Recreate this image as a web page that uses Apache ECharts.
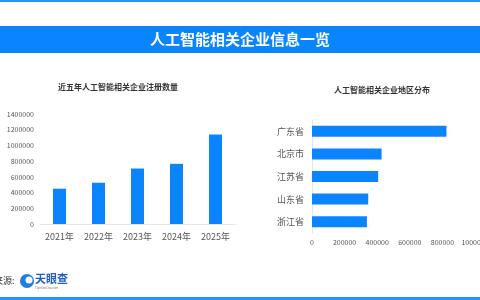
<!DOCTYPE html>
<html>
<head>
<meta charset="utf-8">
<script src="https://cdn.jsdelivr.net/npm/echarts@6/dist/echarts.min.js"></script>
<style>
  html, body { margin: 0; padding: 0; background: #fff; }
  #main { width: 480px; height: 300px; }
</style>
</head>
<body>
<div id="main"></div>
<script>
// 近五年注册数量
var years = ["2021年", "2022年", "2023年", "2024年", "2025年"];
var yearValues = [449000, 525000, 706000, 766000, 1138000];

// 地区分布
var regions = ["浙江省", "山东省", "江苏省", "北京市", "广东省"];
var regionValues = [337000, 345000, 406000, 427000, 825000];

var FONT = '"Noto Sans CJK SC", "Noto Sans", sans-serif';
var BLUE = "#0a84ff";

var chart = echarts.init(document.getElementById("main"));

function plain(v) { return String(v); }

var option = {
  backgroundColor: "#fff",
  textStyle: { fontFamily: FONT },
  animation: false,
  title: [
    {
      text: "近五年人工智能相关企业注册数量",
      left: 113, top: 78, textAlign: "center",
      textStyle: { fontSize: 8, fontWeight: "bold", color: "#333", fontFamily: FONT }
    },
    {
      text: "人工智能相关企业地区分布",
      left: 377, top: 81, textAlign: "center",
      textStyle: { fontSize: 8, fontWeight: "bold", color: "#333", fontFamily: FONT }
    }
  ],
  grid: [
    { left: 40, right: 245, top: 114, bottom: 76, outerBoundsMode: "none" },
    { left: 312, right: 5, top: 120, bottom: 67, outerBoundsMode: "none" }
  ],
  xAxis: [
    {
      gridIndex: 0, type: "category", data: years,
      axisLine: { lineStyle: { color: "#e6e6e6" } },
      axisTick: { show: false },
      axisLabel: { color: "#555", fontSize: 9, margin: 8 }
    },
    {
      gridIndex: 1, type: "value", min: 0, max: 1000000, interval: 200000,
      axisLine: { show: false },
      splitLine: { show: false },
      axisLabel: { color: "#555", fontSize: 7, margin: 6, formatter: plain }
    }
  ],
  yAxis: [
    {
      gridIndex: 0, type: "value", min: 0, max: 1400000, interval: 200000,
      splitLine: { show: false },
      axisLabel: { color: "#555", fontSize: 7, margin: 6, formatter: plain }
    },
    {
      gridIndex: 1, type: "category", data: regions,
      axisLine: { lineStyle: { color: "#e6e6e6" } },
      axisTick: { show: false },
      axisLabel: { color: "#555", fontSize: 9, margin: 8 }
    }
  ],
  series: [
    {
      type: "bar", xAxisIndex: 0, yAxisIndex: 0,
      data: yearValues, barWidth: 13,
      itemStyle: { color: BLUE }
    },
    {
      type: "bar", xAxisIndex: 1, yAxisIndex: 1,
      data: regionValues, barWidth: 11,
      itemStyle: { color: BLUE }
    }
  ],
  graphic: [
    { type: "rect", shape: { x: 0, y: 0, width: 480, height: 2 }, style: { fill: "#2196f3" } },
    { type: "rect", shape: { x: 0, y: 26, width: 480, height: 27 }, style: { fill: BLUE } },
    {
      type: "text", x: 240, y: 39.5,
      style: {
        text: "人工智能相关企业信息一览", fill: "#fff", align: "center", verticalAlign: "middle",
        font: "bold 15px " + FONT
      }
    },
    {
      type: "text", x: -6, y: 281,
      style: { text: "来源:", fill: "#333", verticalAlign: "middle", font: "9px " + FONT }
    },
    { type: "circle", shape: { cx: 27, cy: 281, r: 7 }, style: { fill: "#1f7fe0" } },
    { type: "circle", shape: { cx: 29, cy: 280, r: 3.5 }, style: { fill: "#fff" } },
    {
      type: "text", x: 35, y: 279,
      style: { text: "天眼查", fill: "#1f5fbf", verticalAlign: "middle", font: "bold 11px " + FONT }
    },
    {
      type: "text", x: 35, y: 288,
      style: { text: "TianYanCha.com", fill: "#777", verticalAlign: "middle", font: "3px " + FONT }
    },
    { type: "rect", shape: { x: 0, y: 297, width: 480, height: 3 }, style: { fill: "#2196f3" } }
  ]
};

chart.setOption(option);
</script>
</body>
</html>
